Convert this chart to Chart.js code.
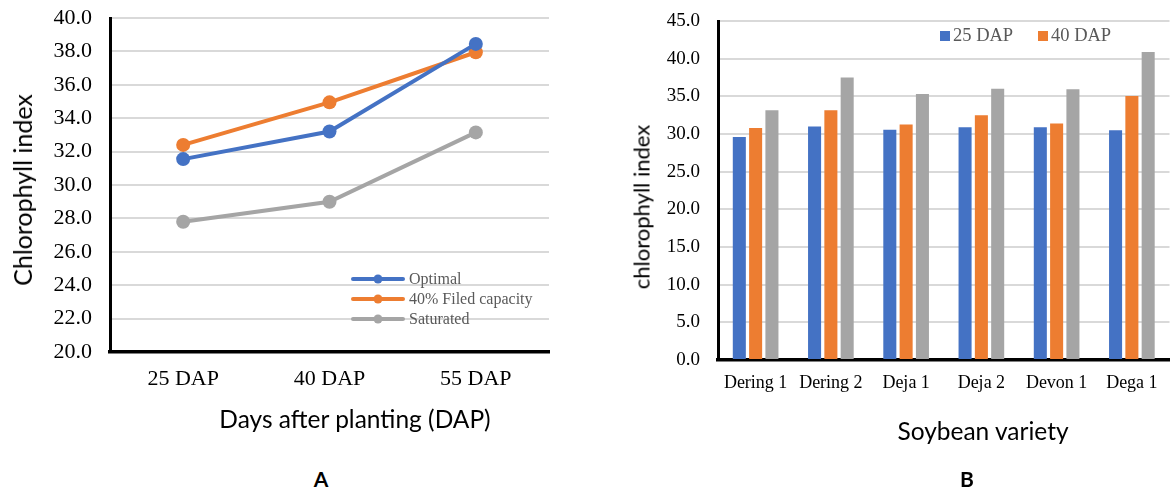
<!DOCTYPE html>
<html>
<head>
<meta charset="utf-8">
<script src="https://cdn.jsdelivr.net/npm/chart.js@4.4.1/dist/chart.umd.min.js"></script>
<style>
body{margin:0;background:#fff;width:1171px;height:490px;position:relative;overflow:hidden;font-family:Lato,sans-serif}
canvas{position:absolute}
#lineChart{left:0;top:0}
#barChart{left:600px;top:0}
.txt{position:absolute;white-space:nowrap;color:#000;font-family:Lato,sans-serif;transform:translate(-50%,-50%)}
.ytitle{transform:translate(-50%,-50%) rotate(-90deg)}
.panel{font-weight:bold;font-size:21px}
</style>
</head>
<body>
<canvas id="lineChart" width="580" height="440"></canvas>
<canvas id="barChart" width="571" height="445"></canvas>
<div class="txt ytitle" style="left:22px;top:190px;font-size:25px">Chlorophyll index</div>
<div class="txt ytitle" style="left:641px;top:207px;font-size:22px">chlorophyll index</div>
<div class="txt" style="left:355px;top:418px;font-size:24.5px">Days after planting (DAP)</div>
<div class="txt" style="left:983px;top:430px;font-size:24.5px">Soybean variety</div>
<div class="txt panel" style="left:321px;top:478px">A</div>
<div class="txt panel" style="left:967px;top:478px">B</div>
<script>
/* Data - panel A */
const dapLabels=["25 DAP","40 DAP","55 DAP"];
const optimal=[31.55,33.2,38.45];
const filedCapacity=[32.4,34.95,37.95];
const saturated=[27.8,29.0,33.15];

/* Data - panel B */
const varieties=["Dering 1","Dering 2","Deja 1","Deja 2","Devon 1","Dega 1"];
const dap25=[29.6,31.0,30.55,30.9,30.9,30.5];
const dap40=[30.8,33.15,31.25,32.5,31.4,35.05];
const dap55=[33.15,37.5,35.3,36.0,35.95,40.9];

const blue="#4472C4", orange="#ED7D31", grey="#A5A5A5";
const serif="Liberation Serif";

/* keep tick label padding from pushing the plot area around */
function noEndPadding(s){
s.paddingTop=0;
s.paddingBottom=0;
}

/* Legend inside plot A */
const lineLegend={
id:"lineLegend",
afterDraw(chart){
const ctx=chart.ctx;
ctx.save();
ctx.font='16px "'+serif+'"';
ctx.textBaseline="middle";
chart.data.datasets.forEach((ds,i)=>{
const y=279+i*20;
ctx.strokeStyle=ds.borderColor;
ctx.lineWidth=4;
ctx.lineCap="round";
ctx.beginPath();ctx.moveTo(353,y);ctx.lineTo(403,y);ctx.stroke();
ctx.fillStyle=ds.borderColor;
ctx.beginPath();ctx.arc(378,y,4.5,0,Math.PI*2);ctx.fill();
ctx.fillStyle="#595959";
ctx.fillText(ds.label,409,y+1);
});
ctx.restore();
}
};

/* Legend inside plot B (only first two series shown) */
const barLegend={
id:"barLegend",
afterDraw(chart){
const ctx=chart.ctx;
ctx.save();
ctx.font='18.5px "'+serif+'"';
ctx.textBaseline="middle";
let x=340;
chart.data.datasets.slice(0,2).forEach(ds=>{
ctx.fillStyle=ds.backgroundColor;
ctx.fillRect(x,31,10,10);
ctx.fillStyle="#595959";
ctx.fillText(ds.label,x+13,36.5);
x+=98;
});
ctx.restore();
}
};

/* Panel A - line chart */
new Chart(document.getElementById("lineChart"),{
type:"line",
data:{
labels:dapLabels,
datasets:[
{label:"Optimal",data:optimal,borderColor:blue,backgroundColor:blue},
{label:"40% Filed capacity",data:filedCapacity,borderColor:orange,backgroundColor:orange},
{label:"Saturated",data:saturated,borderColor:grey,backgroundColor:grey}
]
},
options:{
responsive:false,
animation:false,
layout:{padding:{top:18,right:31,left:0,bottom:0}},
elements:{
line:{borderWidth:4,tension:0},
point:{radius:7,borderWidth:0,hoverRadius:7}
},
plugins:{legend:{display:false},tooltip:{enabled:false}},
scales:{
x:{
offset:true,
grid:{display:false,drawTicks:false},
border:{color:"#000",width:3.5},
ticks:{color:"#000",font:{family:serif,size:22},padding:14},
afterFit(s){s.height=88;}
},
y:{
min:20,max:40,
grid:{color:"#d9d9d9",lineWidth:2,drawTicks:false},
border:{color:"#000",width:3},
ticks:{stepSize:2,color:"#000",font:{family:serif,size:22},padding:18,callback:v=>v.toFixed(1)},
afterFit(s){s.width=110;noEndPadding(s);}
}
}
},
plugins:[lineLegend]
});

/* Panel B - bar chart */
new Chart(document.getElementById("barChart"),{
type:"bar",
data:{
labels:varieties,
datasets:[
{label:"25 DAP",data:dap25,backgroundColor:blue},
{label:"40 DAP",data:dap40,backgroundColor:orange},
{label:"55 DAP",data:dap55,backgroundColor:grey}
]
},
options:{
responsive:false,
animation:false,
layout:{padding:{top:21,right:1.5,left:0,bottom:0}},
datasets:{bar:{categoryPercentage:0.65,barPercentage:0.8}},
plugins:{legend:{display:false},tooltip:{enabled:false}},
scales:{
x:{
grid:{display:false,drawTicks:false},
border:{color:"#000",width:3.5},
ticks:{color:"#000",font:{family:serif,size:18},padding:12,autoSkip:false,maxRotation:0},
afterFit(s){s.height=85;}
},
y:{
min:0,max:45,
grid:{color:"#d9d9d9",lineWidth:2,drawTicks:false},
border:{color:"#000",width:3},
ticks:{stepSize:5,color:"#000",font:{family:serif,size:19},padding:18,callback:v=>v.toFixed(1)},
afterFit(s){s.width=118;noEndPadding(s);}
}
}
},
plugins:[barLegend]
});
</script>
</body>
</html>
